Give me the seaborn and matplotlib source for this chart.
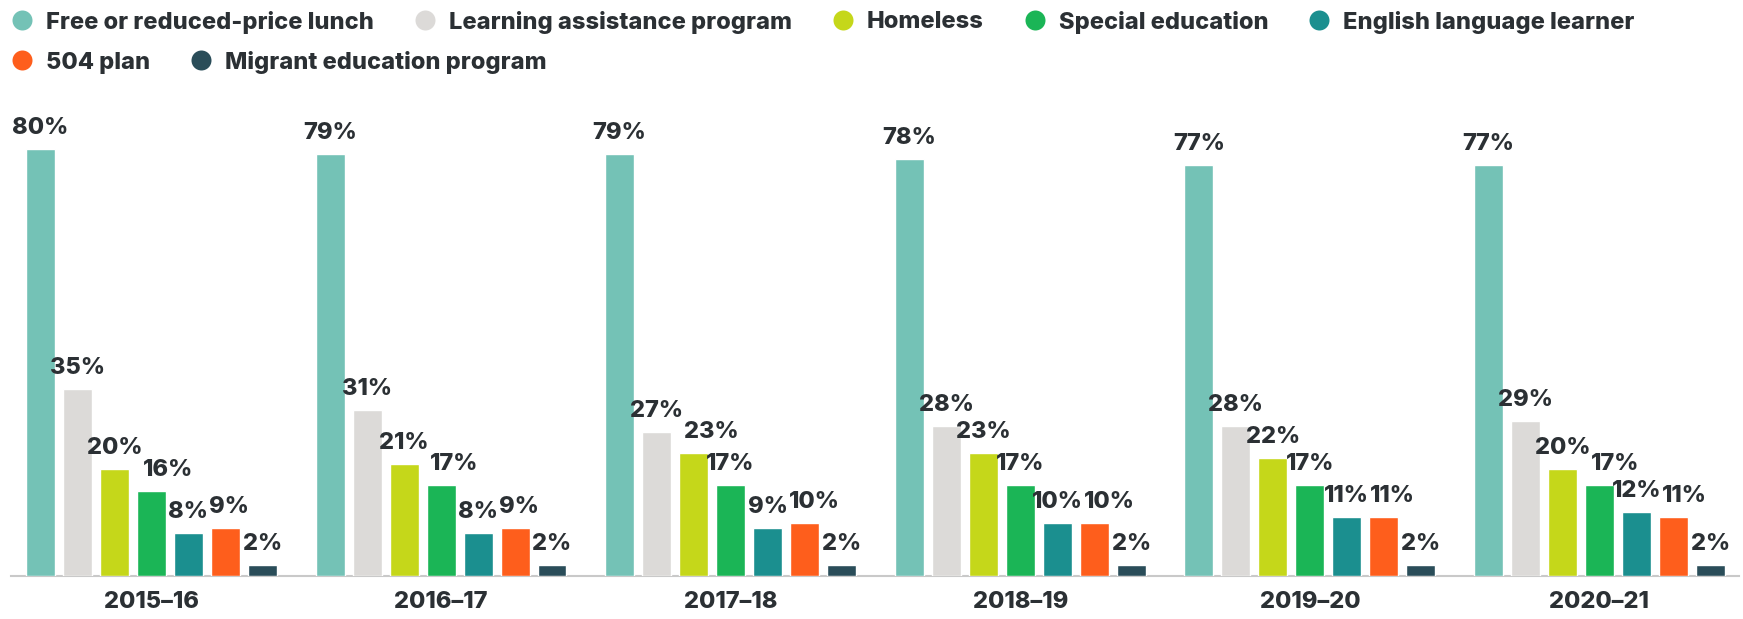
import matplotlib
matplotlib.use("Agg")
import matplotlib.pyplot as plt
from matplotlib.lines import Line2D
import pandas as pd
import seaborn as sns

# School years and student-group shares (%)
years = ["2015–16", "2016–17", "2017–18", "2018–19", "2019–20", "2020–21"]
groups = [
    "Free or reduced-price lunch",
    "Learning assistance program",
    "Homeless",
    "Special education",
    "English language learner",
    "504 plan",
    "Migrant education program",
]
free_lunch = [80, 79, 79, 78, 77, 77]
learning_assistance = [35, 31, 27, 28, 28, 29]
homeless = [20, 21, 23, 23, 22, 20]
special_ed = [16, 17, 17, 17, 17, 17]
ell = [8, 8, 9, 10, 11, 12]
plan_504 = [9, 9, 10, 10, 11, 11]
migrant = [2, 2, 2, 2, 2, 2]

colors = ["#74c2b6", "#dcdad8", "#c5d71a", "#1bb556", "#1b8f8f", "#fe5e1c", "#2a4d59"]
text_color = "#2b3034"

series = [free_lunch, learning_assistance, homeless, special_ed, ell, plan_504, migrant]
rows = []
for g, vals in zip(groups, series):
    for y, v in zip(years, vals):
        rows.append({"year": y, "group": g, "value": v})
df = pd.DataFrame(rows)

sns.set_theme(style="white")
plt.rcParams["font.family"] = ["Inter", "DejaVu Sans"]
WEIGHT = 800
plt.rcParams["font.weight"] = WEIGHT

FS = 17.0
W, H, DPI = 1743, 619, 100
fig = plt.figure(figsize=(W / DPI, H / DPI), dpi=DPI)
ax = fig.add_axes([11 / W, (H - 576) / H, (1739 - 11) / W, 476 / H])

sns.barplot(
    data=df, x="year", y="value", hue="group", order=years, hue_order=groups,
    palette=colors, width=0.894, gap=0.216, saturation=1, legend=False, ax=ax,
)

ax.set_xlim(-0.485, 5.482)
ax.set_ylim(0, 89.1)
ax.set_xlabel("")
ax.set_ylabel("")
ax.set_yticks([])
for side in ["left", "right", "top"]:
    ax.spines[side].set_visible(False)
ax.spines["bottom"].set_color("#c9c9c9")
ax.spines["bottom"].set_linewidth(1.5)
ax.spines["bottom"].set_zorder(0.5)
ax.tick_params(axis="x", length=0, pad=11, labelsize=FS, labelcolor=text_color)
for lbl in ax.get_xticklabels():
    lbl.set_fontweight(WEIGHT)

renderer = fig.canvas.get_renderer()

# Value labels above each bar; a label that would collide with its
# left neighbour is nudged to the right.
LIFT = 10
for j in range(len(years)):
    prev = None
    for cont in ax.containers:
        p = cont.patches[j]
        xc = p.get_x() + p.get_width() / 2
        v = p.get_height()
        t = ax.annotate(f"{int(round(v))}%", (xc, v), xytext=(0, LIFT),
                        textcoords="offset pixels", ha="center", va="bottom",
                        fontsize=FS, fontweight=WEIGHT, color=text_color)
        bb = t.get_window_extent(renderer=renderer)
        shift = 0
        if prev is not None and bb.y0 < prev.y1 and bb.y1 > prev.y0:
            shift = max(0, prev.x1 + 1 - bb.x0)
        if shift:
            t.xyann = (shift, LIFT)
            bb = t.get_window_extent(renderer=renderer)
        prev = bb

# Legend drawn as a wrapped row of dots and labels
legend_rows = [(0, 5, 20, 28.5), (5, 7, 60, 68.5)]
for start, stop, cy, base in legend_rows:
    x = 22
    for i in range(start, stop):
        fig.add_artist(Line2D([x / W], [1 - cy / H], transform=fig.transFigure,
                              marker="o", markersize=14.4, linestyle="none",
                              markerfacecolor=colors[i], markeredgewidth=0))
        t = fig.text((x + 24) / W, 1 - base / H, groups[i], fontsize=FS,
                     fontweight=WEIGHT, color=text_color, ha="left", va="baseline")
        bb = t.get_window_extent(renderer=renderer)
        x = bb.x1 + 51

fig.savefig("out.png", dpi=DPI)
